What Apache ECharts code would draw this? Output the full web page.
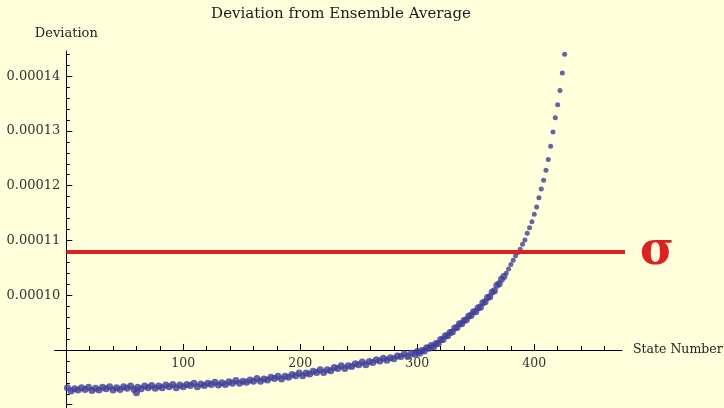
<!DOCTYPE html>
<html><head><meta charset="utf-8">
<script src="https://cdn.jsdelivr.net/npm/echarts@6/dist/echarts.min.js"></script>
<style>html,body{margin:0;padding:0;background:#FFFFDC;}#c{width:724px;height:408px;}</style>
</head><body><div id="c"></div>
<script>
const titleText = 'Deviation from Ensemble Average';
const xName = 'State Number';
const yName = 'Deviation';
const states = [
  1,4,7,10,13,16,19,22,25,28,
  31,34,37,40,43,46,49,52,55,58,
  60,61,64,67,70,73,76,79,82,85,
  88,91,94,97,100,103,106,109,112,115,
  118,121,124,127,130,133,136,139,142,145,
  148,151,154,157,160,163,166,169,172,175,
  178,181,184,187,190,193,196,199,202,205,
  208,211,214,217,220,223,226,229,232,235,
  238,241,244,247,250,253,256,259,262,265,
  268,271,274,277,280,283,286,289,292,295,
  298,300,302,304,306,308,310,312,314,316,
  318,320,322,324,326,328,330,332,334,336,
  338,340,342,344,346,348,350,352,354,356,
  358,360,362,364,366,368,370,372,374,376,
  378,380,382,384,386,388,390,392,394,396,
  398,400,402,404,406,408,410,412,414,416,
  418,420,422,424,426
];
const deviation = [
  8.31e-5,8.25e-5,8.29e-5,8.27e-5,8.31e-5,8.28e-5,8.32e-5,8.26e-5,8.30e-5,8.27e-5,
  8.32e-5,8.29e-5,8.33e-5,8.27e-5,8.31e-5,8.28e-5,8.33e-5,8.30e-5,8.34e-5,8.28e-5,
  8.22e-5,8.32e-5,8.29e-5,8.34e-5,8.31e-5,8.35e-5,8.30e-5,8.34e-5,8.31e-5,8.36e-5,
  8.33e-5,8.37e-5,8.31e-5,8.36e-5,8.33e-5,8.37e-5,8.35e-5,8.39e-5,8.33e-5,8.38e-5,
  8.35e-5,8.39e-5,8.37e-5,8.41e-5,8.36e-5,8.40e-5,8.37e-5,8.42e-5,8.39e-5,8.44e-5,
  8.39e-5,8.43e-5,8.41e-5,8.45e-5,8.43e-5,8.48e-5,8.43e-5,8.47e-5,8.45e-5,8.50e-5,
  8.48e-5,8.52e-5,8.47e-5,8.52e-5,8.50e-5,8.55e-5,8.53e-5,8.58e-5,8.53e-5,8.58e-5,
  8.56e-5,8.61e-5,8.59e-5,8.64e-5,8.59e-5,8.64e-5,8.62e-5,8.68e-5,8.66e-5,8.71e-5,
  8.66e-5,8.71e-5,8.70e-5,8.75e-5,8.73e-5,8.78e-5,8.73e-5,8.79e-5,8.77e-5,8.82e-5,
  8.80e-5,8.85e-5,8.81e-5,8.86e-5,8.84e-5,8.89e-5,8.88e-5,8.93e-5,8.88e-5,8.94e-5,
  8.92e-5,8.97e-5,8.94e-5,8.99e-5,8.98e-5,9.04e-5,9.03e-5,9.08e-5,9.06e-5,9.12e-5,
  9.12e-5,9.19e-5,9.19e-5,9.26e-5,9.26e-5,9.32e-5,9.33e-5,9.40e-5,9.41e-5,9.48e-5,
  9.48e-5,9.54e-5,9.55e-5,9.62e-5,9.63e-5,9.70e-5,9.70e-5,9.77e-5,9.78e-5,9.86e-5,
  9.88e-5,9.96e-5,9.97e-5,10.06e-5,10.08e-5,10.18e-5,10.21e-5,10.29e-5,10.34e-5,10.40e-5,
  10.48e-5,10.56e-5,10.64e-5,10.72e-5,10.78e-5,10.84e-5,10.93e-5,11.01e-5,11.13e-5,11.23e-5,
  11.34e-5,11.48e-5,11.61e-5,11.78e-5,11.94e-5,12.10e-5,12.28e-5,12.48e-5,12.72e-5,12.98e-5,
  13.24e-5,13.48e-5,13.74e-5,14.06e-5,14.40e-5
];
const sigmaValue = 1.079e-4;
const sigmaSpan = [0, 479];
const sigmaLabel = 'σ';
const xLabelValues = [100, 200, 300, 400];
const xMajorTicks = [100, 200, 300, 400];
const xMinorTicks = [20,40,60,80,120,140,160,180,220,240,260,280,320,340,360,380,420,440,460];
const yLabelValues = [1.0e-4, 1.1e-4, 1.2e-4, 1.3e-4, 1.4e-4];
const yMajorTicks = [8e-5, 9e-5, 1.0e-4, 1.1e-4, 1.2e-4, 1.3e-4, 1.4e-4];
const yMinorTicks = [8.2e-5,8.4e-5,8.6e-5,8.8e-5,9.2e-5,9.4e-5,9.6e-5,9.8e-5,
  10.2e-5,10.4e-5,10.6e-5,10.8e-5,11.2e-5,11.4e-5,11.6e-5,11.8e-5,
  12.2e-5,12.4e-5,12.6e-5,12.8e-5,13.2e-5,13.4e-5,13.6e-5,13.8e-5,14.2e-5,14.4e-5];

const font = 'DejaVu Serif';
const X_MIN = -10, X_MAX = 475, Y_MIN = 7.94e-5, Y_MAX = 14.46e-5;
const GRID = {left: 54.6, right: 102, top: 51, bottom: 0};
const W = 724, H = 408;
// where the axes cross inside the grid (x = 0, y = 0.00009)
const yAxisShift = 11.7;      // px from grid left to x = 0
const xAxisShift = 58;        // px from grid bottom to y = 0.00009
const plotW = W - GRID.left - GRID.right;
const plotH = H - GRID.top - GRID.bottom;

const chart = echarts.init(document.getElementById('c'), null, {renderer: 'canvas'});
const pts = states.map((s, i) => [s, deviation[i]]);

chart.setOption({
  backgroundColor: '#FFFFDC',
  animation: false,
  title: {
    text: titleText, left: 336, top: 2, textAlign: 'center',
    textStyle: {fontFamily: font, fontSize: 15, fontWeight: 'normal', color: '#1a1a1a'}
  },
  grid: Object.assign({containLabel: false, outerBoundsMode: 'none'}, GRID),
  xAxis: [
    {
      type: 'value', position: 'bottom', min: X_MIN, max: X_MAX, offset: -xAxisShift,
      name: xName, nameLocation: 'end', nameGap: 11,
      nameTextStyle: {fontFamily: font, fontSize: 12.5, color: '#222'},
      axisLine: {show: true, onZero: false, lineStyle: {color: '#000', width: 1}},
      axisTick: {show: true, inside: true, length: 6, customValues: xMajorTicks, lineStyle: {color: '#000'}},
      axisLabel: {show: true, customValues: xLabelValues, margin: 7, fontFamily: font, fontSize: 12.5, color: '#333'},
      splitLine: {show: false}
    },
    {
      type: 'value', position: 'top', min: X_MIN, max: X_MAX, offset: -(plotH - xAxisShift),
      axisLine: {show: false, onZero: false},
      axisTick: {show: true, inside: false, length: 4, customValues: xMinorTicks, lineStyle: {color: '#000'}},
      axisLabel: {show: false},
      splitLine: {show: false}
    }
  ],
  yAxis: [
    {
      type: 'value', position: 'left', min: Y_MIN, max: Y_MAX, offset: -yAxisShift,
      name: yName, nameLocation: 'end', nameGap: 11,
      nameTextStyle: {fontFamily: font, fontSize: 13, color: '#222'},
      axisLine: {show: true, onZero: false, lineStyle: {color: '#000', width: 1}},
      axisTick: {show: true, inside: true, length: 6, customValues: yMajorTicks, lineStyle: {color: '#000'}},
      axisLabel: {show: true, customValues: yLabelValues, margin: 6, fontFamily: font, fontSize: 13, color: '#333',
        formatter: v => v.toFixed(5)},
      splitLine: {show: false}
    },
    {
      type: 'value', position: 'right', min: Y_MIN, max: Y_MAX, offset: -(plotW - yAxisShift),
      axisLine: {show: false, onZero: false},
      axisTick: {show: true, inside: false, length: 3.5, customValues: yMinorTicks, lineStyle: {color: '#000'}},
      axisLabel: {show: false},
      splitLine: {show: false}
    }
  ],
  series: [
    {
      type: 'scatter', xAxisIndex: 0, yAxisIndex: 0, data: pts,
      symbolSize: v => (v[1] < 1.04e-4 ? 7 : 5),
      itemStyle: {color: '#3d3d98'}
    },
    {
      type: 'line', xAxisIndex: 0, yAxisIndex: 0, clip: false,
      data: sigmaSpan.map(s => [s, sigmaValue]), symbol: 'none',
      lineStyle: {color: '#e02020', width: 4},
      endLabel: {show: true, formatter: sigmaLabel, color: '#e02020', fontSize: 46, fontWeight: 'bold', fontFamily: font, distance: 15}
    }
  ]
});
</script></body></html>
